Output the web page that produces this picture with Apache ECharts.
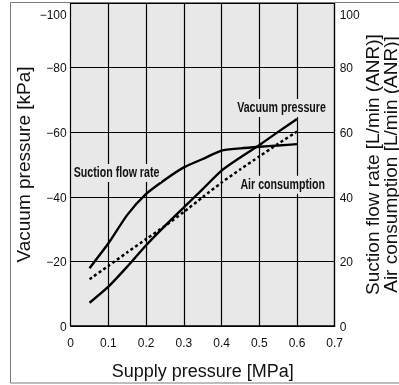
<!DOCTYPE html>
<html>
<head>
<meta charset="utf-8">
<script src="https://cdn.jsdelivr.net/npm/echarts@6/dist/echarts.min.js"></script>
<style>
  html, body { margin: 0; padding: 0; background: #fff; }
  #chart { width: 399px; height: 385px; }
</style>
</head>
<body>
<div id="chart"></div>
<script>
// Supply pressure [MPa] sample points
const supplyPressure = [0.05, 0.1, 0.15, 0.2, 0.25, 0.3, 0.35, 0.4, 0.45, 0.5, 0.55, 0.6];
// Vacuum pressure [kPa] (left axis)
const vacuumPressure = [-7.2, -12.2, -18.4, -25.0, -31.0, -36.7, -42.4, -48.1, -52.2, -56.0, -60.1, -64.1];
// Suction flow rate [L/min (ANR)] (right axis)
const suctionFlowRate = [17.9, 25.6, 34.4, 40.9, 45.3, 49.1, 51.7, 54.3, 55.0, 55.5, 55.9, 56.3];
// Air consumption [L/min (ANR)] (right axis)
const airConsumption = [14.5, 18.6, 22.8, 26.9, 31.0, 35.3, 39.9, 44.4, 48.5, 52.5, 56.4, 60.2];

// Axis ticks
const xTicks = { min: 0, max: 0.7, step: 0.1 };
const vacuumTicks = { min: -100, max: 0, step: 20 };
const flowTicks = { min: 0, max: 100, step: 20 };

// Curve captions: [text, series index, x, value]
const captions = [
  ['Vacuum pressure', 0, 0.559, -67.5],
  ['Suction flow rate', 1, 0.1215, 47.4],
  ['Air consumption', 2, 0.562, 43.7]
];

const pairs = (xs, ys) => xs.map((x, i) => [x, ys[i]]);

const sans = "'Liberation Sans', Arial, Helvetica, sans-serif";
const plotBg = '#e8e8e8';
const ink = '#111';

const tickLabel = {
  fontFamily: sans, fontSize: 12, color: ink, padding: [3, 0, 0, 0],
  rich: { top: { fontFamily: sans, fontSize: 12, color: ink, padding: [22, 0, 0, 0] } }
};

const chart = echarts.init(document.getElementById('chart'), null, { renderer: 'canvas' });
chart.setOption({
  animation: false,
  backgroundColor: '#fff',
  grid: {
    left: 70.7, right: 64.3, top: 3, bottom: 59,
    outerBoundsMode: 'none', containLabel: false,
    show: true, backgroundColor: plotBg, borderWidth: 0
  },
  xAxis: {
    type: 'value', min: xTicks.min, max: xTicks.max, interval: xTicks.step,
    axisLine: { show: true, lineStyle: { color: '#000', width: 1.5 } },
    axisTick: { show: false },
    splitLine: { show: true, lineStyle: { color: '#000', width: 1.2 } },
    axisLabel: {
      fontFamily: sans, fontSize: 12, color: ink, margin: 12,
      formatter: v => (v === 0 ? '0' : v.toFixed(1))
    },
    name: 'Supply pressure [MPa]', nameLocation: 'middle', nameGap: 37,
    nameMoveOverlap: false,
    nameTextStyle: { fontFamily: sans, fontSize: 18, color: ink }
  },
  yAxis: [{
    type: 'value', position: 'left', inverse: true,
    min: vacuumTicks.min, max: vacuumTicks.max, interval: vacuumTicks.step,
    axisLine: { show: true, lineStyle: { color: '#000', width: 1 } },
    axisTick: { show: false },
    splitLine: { show: true, lineStyle: { color: '#000', width: 1.2 } },
    axisLabel: {
      ...tickLabel, margin: 4,
      formatter: v => {
        const t = v === 0 ? '0' : '\u2212' + Math.abs(v);
        return v === vacuumTicks.min ? '{top|' + t + '}' : t;
      }
    },
    name: 'Vacuum pressure [kPa]', nameLocation: 'middle', nameGap: 36,
    nameMoveOverlap: false,
    nameTextStyle: { fontFamily: sans, fontSize: 19, color: ink }
  }, {
    type: 'value', position: 'right',
    min: flowTicks.min, max: flowTicks.max, interval: flowTicks.step,
    axisLine: { show: true, lineStyle: { color: '#000', width: 1.2 } },
    axisTick: { show: false },
    splitLine: { show: false },
    axisLabel: {
      ...tickLabel, margin: 5,
      formatter: v => (v === flowTicks.max ? '{top|' + v + '}' : String(v))
    },
    name: 'Suction flow rate [L/min (ANR)]\nAir consumption [L/min (ANR)]',
    nameLocation: 'middle', nameGap: 30,
    nameMoveOverlap: false,
    nameTextStyle: { fontFamily: sans, fontSize: 19, lineHeight: 18, color: ink }
  }],
  series: [{
    name: 'Vacuum pressure', type: 'line', yAxisIndex: 0,
    data: pairs(supplyPressure, vacuumPressure),
    showSymbol: false, smooth: 0.2,
    lineStyle: { color: '#000', width: 2.4 }
  }, {
    name: 'Suction flow rate', type: 'line', yAxisIndex: 1,
    data: pairs(supplyPressure, suctionFlowRate),
    showSymbol: false, smooth: 0.2,
    lineStyle: { color: '#000', width: 2.4 }
  }, {
    name: 'Air consumption', type: 'line', yAxisIndex: 1,
    data: pairs(supplyPressure, airConsumption),
    showSymbol: false, smooth: 0.2,
    lineStyle: { color: '#000', width: 2.5, type: [3, 2.6] }
  }]
});

// Outer frame plus condensed bold captions placed next to their curves
const graphics = [{
  type: 'rect', silent: true, z: 100,
  shape: { x: 10.5, y: 2.5, width: 420, height: 380.5 },
  style: { fill: 'none', stroke: '#7a7a7a', lineWidth: 1 }
}];
captions.forEach(([text, si, x, v]) => {
  const p = chart.convertToPixel({ seriesIndex: si }, [x, v]);
  graphics.push({
    type: 'text', silent: true, z: 50,
    x: p[0], y: p[1], scaleX: 0.76,
    style: {
      text: text, font: 'bold 14px ' + sans, fill: ink,
      align: 'center', verticalAlign: 'middle',
      backgroundColor: plotBg, padding: [2, 2]
    }
  });
});
chart.setOption({ graphic: graphics });
</script>
</body>
</html>
